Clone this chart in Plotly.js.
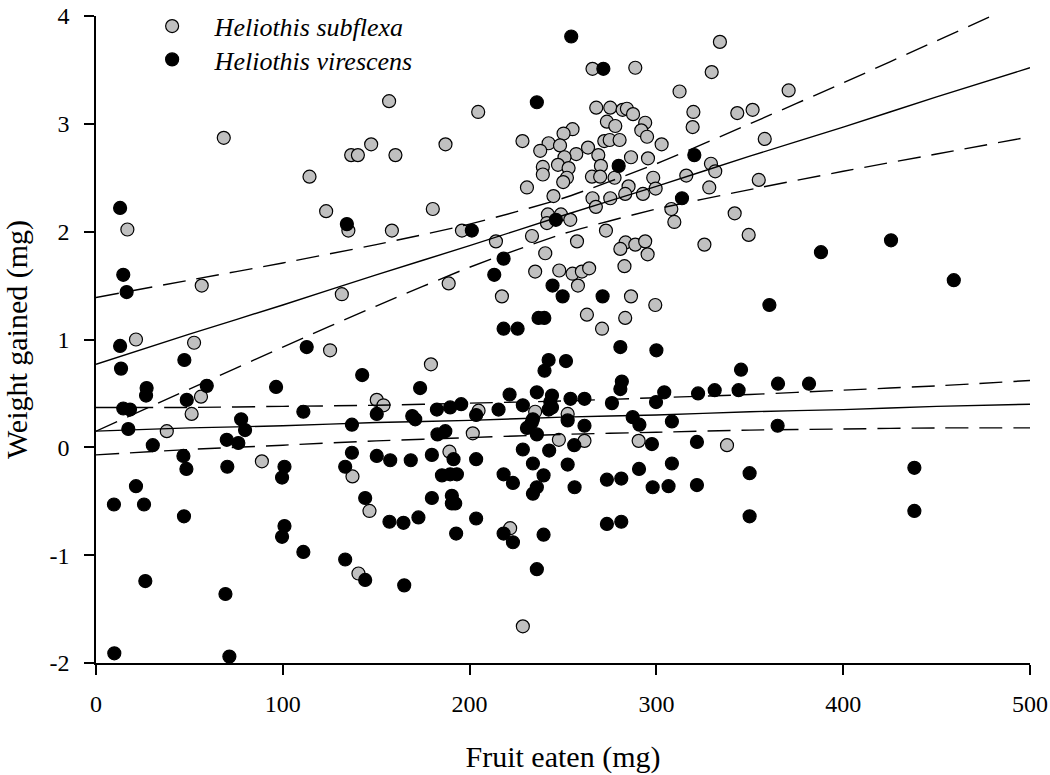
<!DOCTYPE html>
<html>
<head>
<meta charset="utf-8">
<script src="https://cdn.plot.ly/plotly-3.0.1.min.js"></script>
<style>
  html, body { margin: 0; padding: 0; background: #ffffff; }
  #chart { width: 1050px; height: 775px; }
</style>
</head>
<body>
<div id="chart"></div>
<script>
// ---------- Data ----------
const seriesNames = ["Heliothis subflexa", "Heliothis virescens"];

// Heliothis subflexa (grey points): fruit eaten (mg) / weight gained (mg)
const subflexaX = [156.9,68.4,147.3,136.6,140.2,160.3,114.3,123.2,16.8,135.1,158.4,
  265.8,288.7,334,329.6,312.4,204.6,319.8,267.8,275.3,281.9,284.2,287.5,319.4,273.5,278,
  294,291.9,295,302.8,255.1,250.3,228.3,187.1,242.3,237.8,248.4,263.4,272.1,275,280.3,
  257.1,250.8,268.9,286.4,295.5,247.3,253,239.2,239.2,270.3,329.2,331.5,252.1,250.1,
  265.5,269.9,277.6,298.3,316,285.1,299.6,328.3,230.7,244.9,265.8,275.3,283.3,292.8,
  267.6,308,180.3,241.9,248.9,253.9,241.4,309.6,195.9,214.1,233.4,257.5,273,283.5,288.7,
  294,325.7,370.8,343.3,351.5,358,354.8,341.9,349.4,56.6,131.6,21.4,52.5,125.3,56.2,51.2,
  150.3,153.9,37.9,88.8,137.3,146.4,140.5,280.7,295.3,240.5,188.8,235.1,248,255.1,260.1,
  264,258,282.9,286.4,299.4,217.3,262.8,283.3,270.9,179.3,204.8,235.1,252.5,201.7,247.8,
  261.5,290.5,189.2,337.8,221.7,228.5];
const subflexaY = [3.21,2.87,2.81,2.71,2.71,2.71,2.51,2.19,2.02,2.01,2.01,
  3.51,3.52,3.76,3.48,3.30,3.11,3.11,3.15,3.15,3.13,3.14,3.09,2.97,3.02,2.98,
  3.01,2.94,2.88,2.81,2.95,2.91,2.84,2.81,2.82,2.75,2.80,2.78,2.84,2.85,2.85,
  2.72,2.69,2.71,2.69,2.68,2.62,2.59,2.60,2.53,2.61,2.63,2.56,2.50,2.46,
  2.51,2.51,2.50,2.50,2.52,2.42,2.40,2.41,2.41,2.33,2.31,2.31,2.35,2.35,
  2.23,2.21,2.21,2.16,2.16,2.11,2.08,2.09,2.01,1.91,1.96,1.91,2.01,1.90,1.88,
  1.91,1.88,3.31,3.10,3.13,2.86,2.48,2.17,1.97,1.50,1.42,1.00,0.97,0.90,0.47,0.31,
  0.44,0.39,0.15,-0.13,-0.27,-0.59,-1.17,1.84,1.79,1.80,1.52,1.63,1.64,1.61,1.63,
  1.66,1.50,1.68,1.40,1.32,1.40,1.23,1.20,1.10,0.77,0.34,0.33,0.31,0.13,0.07,
  0.06,0.06,-0.04,0.02,-0.75,-1.66];

// Heliothis virescens (black points)
const virescensX = [12.9,134.3,254.4,271.6,236,320.3,279.8,313.7,246.2,201.2,425.6,
  14.6,16.4,12.9,112.8,13.4,47.3,142.5,27.1,26.8,59.3,96.4,48.6,14.6,18.2,111,150.3,
  17.3,137,77.7,79.8,70,76.2,30.4,137,46.8,150.3,157.5,48.4,70.3,100.9,99.6,133.4,
  21.4,9.6,25.7,47.1,144.1,157.1,164.6,100.9,99.6,111,133.4,144.1,165,26.4,69.3,9.8,71.4,
  218.2,213.2,244.4,249.8,271.2,236.9,240,218.2,225.7,280.7,300,242.3,240.1,251.6,
  281.5,280.7,173.5,221.4,236,244.1,254,261.5,276.2,304.2,299.8,322.3,331.2,182.5,
  189.6,195.5,169.3,170.9,203.5,215.5,228.5,243.2,244.1,242.3,233.9,233.3,252.5,261.5,
  287.3,290.9,308.3,230.7,236,182.8,187,256,297.6,321.7,228.5,242.6,179.8,168.5,191.4,
  203.5,233.9,252.5,308.3,388.1,459.2,360.5,345.3,344,365.1,381.7,364.9,185.2,189.6,
  193.2,179.8,190.5,190.5,192.3,172.6,203.5,192.8,218.2,223.2,239.6,236,233.9,256.2,
  273.5,281.2,290.7,298,306.5,321.7,273.5,281.2,218.2,223.2,239.6,236,349.9,349.9,
  438.1,438.1];
const virescensY = [2.22,2.07,3.81,3.51,3.20,2.71,2.61,2.31,2.11,2.01,1.92,
  1.60,1.44,0.94,0.93,0.73,0.81,0.67,0.55,0.48,0.57,0.56,0.44,0.36,0.35,0.33,0.31,
  0.17,0.21,0.26,0.16,0.07,0.04,0.02,-0.05,-0.08,-0.08,-0.12,-0.20,-0.18,-0.18,-0.28,-0.18,
  -0.36,-0.53,-0.53,-0.64,-0.47,-0.69,-0.70,-0.73,-0.83,-0.97,-1.04,-1.23,-1.28,-1.24,-1.36,-1.91,-1.94,
  1.75,1.60,1.50,1.40,1.40,1.20,1.20,1.10,1.10,0.93,0.90,0.81,0.71,0.80,
  0.61,0.54,0.55,0.49,0.51,0.48,0.45,0.45,0.41,0.51,0.42,0.50,0.53,0.35,
  0.37,0.40,0.29,0.26,0.30,0.35,0.39,0.42,0.37,0.35,0.26,0.23,0.25,0.20,
  0.28,0.21,0.24,0.18,0.12,0.12,0.15,0.02,0.03,0.05,-0.02,-0.03,-0.07,-0.12,-0.11,
  -0.11,-0.15,-0.16,-0.15,1.81,1.55,1.32,0.72,0.53,0.59,0.59,0.20,-0.26,-0.25,
  -0.25,-0.47,-0.45,-0.52,-0.52,-0.65,-0.66,-0.80,-0.25,-0.33,-0.26,-0.37,-0.43,-0.37,
  -0.30,-0.29,-0.20,-0.37,-0.36,-0.35,-0.71,-0.69,-0.80,-0.88,-0.81,-1.13,-0.24,-0.64,
  -0.19,-0.59];

// Regression lines and confidence bands at these x values
const fitX = [0, 50, 100, 150, 200, 250, 300, 350, 400, 450, 500];
const subflexaFit   = [0.77, 1.05, 1.32, 1.60, 1.87, 2.15, 2.42, 2.70, 2.97, 3.25, 3.52];
const subflexaUpper = [1.39, 1.55, 1.71, 1.88, 2.07, 2.31, 2.63, 3.00, 3.38, 3.77, 4.16];
const subflexaLower = [0.15, 0.54, 0.93, 1.31, 1.67, 1.98, 2.21, 2.39, 2.56, 2.72, 2.88];
const virescensFit   = [0.15, 0.18, 0.20, 0.23, 0.25, 0.28, 0.30, 0.33, 0.35, 0.38, 0.40];
const virescensUpper = [0.37, 0.37, 0.38, 0.39, 0.41, 0.43, 0.46, 0.49, 0.53, 0.57, 0.62];
const virescensLower = [-0.07, -0.02, 0.02, 0.06, 0.09, 0.12, 0.14, 0.16, 0.17, 0.18, 0.18];

// Axis ticks
const xTickVals = [0, 100, 200, 300, 400, 500];
const yTickVals = [-2, -1, 0, 1, 2, 3, 4];
const yTickText = ["-2", "-1", "0", "1", "2", "3", "4"];
const xTitle = "Fruit eaten (mg)";
const yTitle = "Weight gained (mg)";

// ---------- Build traces ----------
const serif = '"Liberation Serif", "Times New Roman", Times, serif';
const markerLine = { color: "#000000", width: 1.2 };

function fitTrace(y, dashed) {
  return {
    x: fitX, y: y, type: "scatter", mode: "lines", showlegend: false, hoverinfo: "skip",
    line: { color: "#000000", width: 1.4, dash: dashed ? "23px,11px" : "solid", shape: "spline", smoothing: 0.6 }
  };
}

const traces = [
  { x: subflexaX, y: subflexaY, type: "scatter", mode: "markers", name: seriesNames[0], legend: "legend",
    marker: { size: 13, color: "#c0c0c0", line: markerLine } },
  { x: virescensX, y: virescensY, type: "scatter", mode: "markers", name: seriesNames[1], legend: "legend2",
    marker: { size: 13, color: "#000000", line: markerLine } },
  fitTrace(subflexaFit, false), fitTrace(subflexaUpper, true), fitTrace(subflexaLower, true),
  fitTrace(virescensFit, false), fitTrace(virescensUpper, true), fitTrace(virescensLower, true)
];

const axisCommon = {
  showgrid: false, zeroline: false, showline: true, linecolor: "#000000", linewidth: 1.5,
  ticks: "outside", ticklen: 10, tickwidth: 1.5, tickcolor: "#000000",
  ticklabeloverflow: "allow",
  tickfont: { family: serif, size: 24, color: "#000000" }
};

function legendBox(yPos) {
  return {
    x: 0.036, y: yPos, xanchor: "left", yanchor: "top",
    bgcolor: "rgba(0,0,0,0)", borderwidth: 0, itemwidth: 75,
    font: { family: serif, size: 26, style: "italic", color: "#000000" },
    itemsizing: "trace", tracegroupgap: 0
  };
}

const layout = {
  width: 1050, height: 775,
  margin: { l: 96, r: 20, t: 16, b: 112, autoexpand: false },
  paper_bgcolor: "#ffffff", plot_bgcolor: "#ffffff",
  font: { family: serif, color: "#000000" },
  showlegend: true,
  legend: legendBox(1.0206),
  legend2: legendBox(0.9691),
  xaxis: Object.assign({}, axisCommon, {
    range: [0, 500], tickmode: "array", tickvals: xTickVals, ticklabelstandoff: 8,
    title: { text: xTitle, font: { family: serif, size: 30, color: "#000000" }, standoff: 30 }
  }),
  yaxis: Object.assign({}, axisCommon, {
    range: [-2, 4], tickmode: "array", tickvals: yTickVals, ticktext: yTickText, ticklabelstandoff: 10,
    title: { text: yTitle, font: { family: serif, size: 30, color: "#000000" }, standoff: 24 }
  })
};

Plotly.newPlot("chart", traces, layout, { displayModeBar: false, responsive: false });
</script>
</body>
</html>
